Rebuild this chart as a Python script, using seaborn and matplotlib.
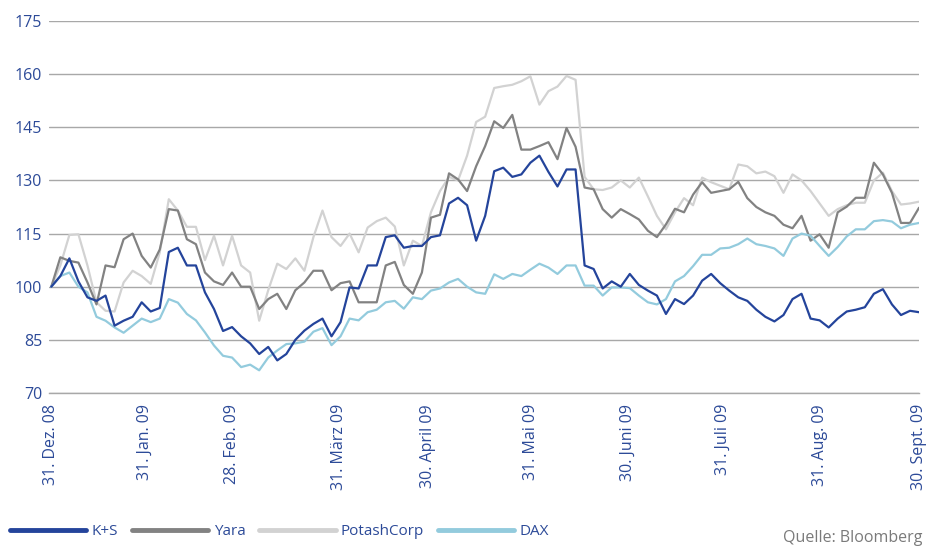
import matplotlib
matplotlib.use('Agg')
import matplotlib.pyplot as plt
from matplotlib.lines import Line2D
import pandas as pd
import seaborn as sns

# --------------------- data (indexed, 31.12.2008 = 100, every 2nd trading day) --------------------- #
ks = [100, 103, 108, 101.5, 97, 96, 97.5, 89, 90.4, 91.5,
      95.6, 93, 94, 109.8, 111, 106, 106, 98.4, 93.7, 87.5,
      88.6, 86, 84, 81, 83, 79.2, 81, 85, 87.6, 89.5,
      91, 86, 90, 99.8, 99.5, 106, 106, 114, 114.5, 111,
      111.5, 111.5, 114, 114.5, 123.5, 125.1, 123, 113, 120, 132.6,
      133.6, 131, 131.7, 135, 137, 132.4, 128.3, 133.1, 133.1, 106,
      105, 99.5, 101.5, 100, 103.6, 100.5, 98.9, 97.5, 92.3, 96.5,
      95.1, 97.5, 101.7, 103.6, 101, 98.9, 97, 96, 93.5, 91.5,
      90.2, 92, 96.5, 98, 91, 90.5, 88.5, 91, 93, 93.5,
      94.2, 98, 99.3, 95, 92, 93.2, 92.8]

yara = [100, 108.3, 107.3, 106.8, 101.2, 95, 106, 105.5, 113.4, 115,
        108.7, 105.4, 110.5, 121.9, 121.5, 113.4, 112, 104, 101.5, 100.5,
        104, 100, 100, 93.7, 96.5, 98, 93.7, 99, 101.2, 104.5,
        104.5, 99, 101, 101.5, 95.6, 95.6, 95.6, 106, 107, 100.5,
        98, 104, 119.5, 120.3, 132, 130.3, 127, 134, 139.7, 146.7,
        144.8, 148.5, 138.7, 138.7, 139.7, 140.8, 136, 144.8, 139.5, 128,
        127.5, 121.9, 119.5, 121.9, 120.5, 119, 115.8, 114, 117.6, 122,
        121, 126, 129.5, 126.5, 127, 127.5, 129.6, 125, 122.5, 121,
        120, 117.5, 116.5, 120, 113, 114.8, 111, 121, 122.6, 125.1,
        125.1, 135, 131.7, 126.5, 118, 118, 122.3]

potash = [100, 106, 114.6, 114.8, 106, 95.6, 93.2, 93, 101.2, 104.5,
          103, 100.8, 109.7, 124.7, 121.5, 116.9, 116.9, 107.5, 114.4, 106,
          114.4, 106, 104, 90.4, 99, 106.5, 105, 108, 104.5, 114,
          121.5, 114, 111.5, 115, 109.7, 116.7, 118.5, 119.5, 117, 106,
          113, 111.5, 121, 127, 131, 130, 137, 146.5, 148, 156.1,
          156.6, 157, 158, 159.4, 151.4, 155.2, 156.5, 159.5, 158.4, 131,
          127.5, 127.3, 128, 130, 128, 130.8, 125.5, 120, 116.2, 121,
          125, 123, 130.8, 129.5, 128.5, 127.5, 134.5, 134, 132, 132.5,
          131.2, 126.5, 131.7, 130, 127, 123.5, 120, 121.9, 123, 123.7,
          123.7, 130, 132.2, 127, 123.2, 123.5, 124]

dax = [100, 103, 104, 100, 98.4, 91.5, 90.4, 88.5, 87, 89,
       91, 90, 91, 96.5, 95.5, 92.3, 90.5, 87.1, 83.4, 80.5,
       80, 77.3, 78, 76.4, 80, 82, 83.8, 84, 84.5, 87.3,
       88.3, 83.5, 86, 91, 90.5, 92.8, 93.5, 95.6, 96, 93.8,
       97, 96.5, 98.9, 99.5, 101.2, 102.2, 100, 98.4, 98, 103.5,
       102.2, 103.6, 103, 104.8, 106.5, 105.4, 103.6, 106, 106, 100.3,
       100.3, 97.5, 99.8, 99.8, 99.6, 97.5, 95.6, 95, 96.5, 101.5,
       103, 105.8, 109, 109, 110.8, 111, 112, 113.6, 112, 111.5,
       110.8, 108.7, 113.6, 115, 114.4, 111.5, 108.7, 111.2, 114.2, 116.2,
       116.2, 118.5, 118.8, 118.4, 116.5, 117.5, 118]

series_names = ['K+S', 'Yara', 'PotashCorp', 'DAX']
tick_pos = [0, 10.3, 20, 31.8, 41.7, 53.1, 63.8, 74.3, 85, 96]
tick_labels = ['31. Dez. 08', '31. Jan. 09', '28. Feb. 09', '31. März 09', '30. April 09',
               '31. Mai 09', '30. Juni 09', '31. Juli 09', '31. Aug. 09', '30. Sept. 09']
y_ticks = [70, 85, 100, 115, 130, 145, 160, 175]

colors = {'K+S': '#24449b', 'Yara': '#828282', 'PotashCorp': '#d2d2d2', 'DAX': '#93cbdd'}
label_blue = '#2c4a98'

# long form table for seaborn
frames = []
for name, vals in zip(series_names, [ks, yara, potash, dax]):
    frames.append(pd.DataFrame({'day': range(len(vals)), 'value': vals, 'series': name}))
df = pd.concat(frames, ignore_index=True)

# --------------------- plot --------------------- #
sns.set_style('white')
plt.rcParams['font.family'] = ['Open Sans', 'DejaVu Sans']

fig, ax = plt.subplots(figsize=(9.34, 5.49), dpi=100)
fig.subplots_adjust(left=0.0525, right=0.984, top=0.9617, bottom=0.2842)

# draw order: light lines below, K+S on top
sns.lineplot(data=df, x='day', y='value', hue='series',
             hue_order=['PotashCorp', 'Yara', 'DAX', 'K+S'],
             palette=colors, linewidth=1.6, legend=False, ax=ax)

ax.set(xlim=(-0.25, 96), ylim=(70, 175), xlabel='', ylabel='')
ax.set_yticks(y_ticks)
ax.set_xticks(tick_pos)
ax.set_xticklabels(tick_labels, rotation=90)
ax.yaxis.grid(True, color='#a8a8a8', linewidth=1)
ax.set_axisbelow(True)

for side in ['left', 'right', 'top']:
    ax.spines[side].set_visible(False)
ax.spines['bottom'].set_color('#a8a8a8')
ax.spines['bottom'].set_linewidth(1)

ax.tick_params(axis='y', length=0, pad=5, labelsize=11.5, labelcolor=label_blue)
ax.tick_params(axis='x', length=5, width=1, color='#a8a8a8', pad=3,
               labelsize=11.5, labelcolor=label_blue)

# legend at the bottom
handles = [Line2D([], [], color=colors[n], linewidth=3.5) for n in series_names]
leg = fig.legend(handles, series_names, loc='lower left', bbox_to_anchor=(0.0, 0.0),
                 ncol=4, frameon=False, borderpad=0.15, handlelength=5.0,
                 handletextpad=0.35, columnspacing=0.9, prop={'size': 11})
for t in leg.get_texts():
    t.set_color(label_blue)

fig.text(0.988, 0.005, 'Quelle: Bloomberg', ha='right', va='bottom', color='#7a7a7a',
         fontsize=11.5)

plt.savefig('out.png', dpi=100)
